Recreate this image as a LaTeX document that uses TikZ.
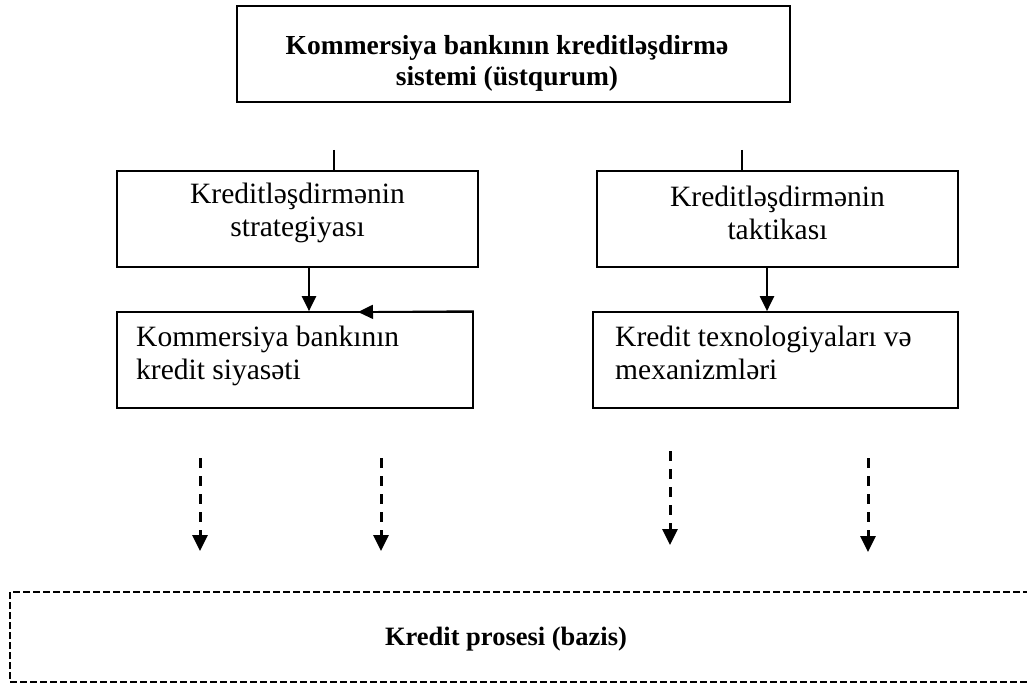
\documentclass[tikz,border=0pt]{standalone}
\usepackage{fontspec}
\setmainfont{Liberation Serif}
\usetikzlibrary{arrows.meta,calc}
\begin{document}
\begin{tikzpicture}[x=1pt,y=-1pt,
  box/.style={draw,line width=1.7pt,rectangle,inner sep=0pt},
  txt/.style={inner sep=0pt,font=\fontsize{29.5}{32.5}\selectfont},
  ctxt/.style={txt,align=center},
  ltxt/.style={txt,align=left,anchor=north west},
  solidarrow/.style={line width=2.2pt,-{Triangle[length=15pt,width=14pt]}},
  dasharrow/.style={line width=3pt,dash pattern=on 10pt off 8pt,
    -{Triangle[length=16pt,width=15pt]}},
  tick/.style={line width=1.5pt}]
\useasboundingbox (0,0) rectangle (1027,684);

% upper level
\node[box,minimum width=553pt,minimum height=96pt] (top) at (513.5,54) {};
\node[inner sep=0pt,align=center,
  font=\fontsize{27.5}{31}\selectfont\bfseries] (toptext) at (507,63)
  {Kommersiya bankının kreditləşdirmə\\sistemi (üstqurum)};

% strategy and tactics
\node[box,minimum width=361pt,minimum height=96pt] (strat) at (297.5,219) {};
\node[ctxt] (strattext) at (297.5,213) {Kreditləşdirmənin\\strategiyası};
\node[box,minimum width=361pt,minimum height=96pt] (takt) at (777.5,219) {};
\node[ctxt] (takttext) at (777.5,213) {Kreditləşdirmənin\\taktikası};

% policy and technologies
\node[box,minimum width=356pt,minimum height=96pt] (pol) at (295,360) {};
\node[ltxt] (poltext) at (136,326) {Kommersiya bankının\\kredit siyasəti};
\node[box,minimum width=365pt,minimum height=96pt] (tech) at (775.5,360) {};
\node[ltxt] (techtext) at (615,326) {Kredit texnologiyaları və\\mexanizmləri};

% credit process (base)
\draw[line width=1.5pt,dash pattern=on 7pt off 3pt] (10,592) rectangle (1045,682);
\node[inner sep=0pt,font=\fontsize{26.5}{30}\selectfont\bfseries] (base) at (506,639)
  {Kredit prosesi (bazis)};

% short ticks above the middle boxes
\coordinate (tl) at (334,150);
\coordinate (tr) at (742,150);
\draw[tick] (tl) -- (tl |- strat.north);
\draw[tick] (tr) -- (tr |- takt.north);

% solid arrows
\draw[solidarrow] (309,0 |- strat.south) -- (309,0 |- pol.north);
\draw[solidarrow] (767,0 |- takt.south) -- (767,0 |- tech.north);
\coordinate (back) at (358,312);
\draw[solidarrow,line width=1.7pt] (pol.north east) -- (back);

% dashed arrows towards the base
\coordinate (d1s) at (200,458); \coordinate (d1e) at (200,551);
\coordinate (d2s) at (381,458); \coordinate (d2e) at (381,551);
\coordinate (d3s) at (670,451); \coordinate (d3e) at (670,545);
\coordinate (d4s) at (868,458); \coordinate (d4e) at (868,552);
\draw[dasharrow] (d1s) -- (d1e);
\draw[dasharrow] (d2s) -- (d2e);
\draw[dasharrow] (d3s) -- (d3e);
\draw[dasharrow] (d4s) -- (d4e);
\end{tikzpicture}
\end{document}
